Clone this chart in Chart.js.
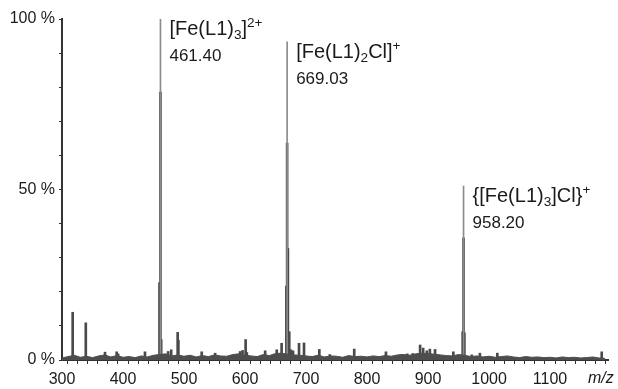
<!DOCTYPE html>
<html>
<head>
<meta charset="utf-8">
<script src="https://cdn.jsdelivr.net/npm/chart.js@4/dist/chart.umd.min.js"></script>
<style>
html,body{margin:0;padding:0;background:#fff;}
#wrap{position:relative;width:618px;height:389px;font-family:"Liberation Sans",Arial,sans-serif;color:#1a1a1a;}
.lab{position:absolute;white-space:nowrap;line-height:20px;}
.f{font-size:20px;}
.n{font-size:17px;}
.f sub,.f sup{font-size:0.68em;line-height:0;}
.f sub{vertical-align:-0.32em;}
.f sup{vertical-align:0.62em;}
#mz{position:absolute;font-size:16px;font-style:italic;}
</style>
</head>
<body>
<div id="wrap">
<canvas id="spec" width="618" height="389"></canvas>
</div>
<script>

// main peaks (tip of the line) and their labels
const apexMz = [461.40, 669.03, 958.20];
const apexPct = [100, 93.3, 51];
const apexNames = ["[Fe(L1)<sub>3</sub>]<sup>2+</sup>", "[Fe(L1)<sub>2</sub>Cl]<sup>+</sup>", "{[Fe(L1)<sub>3</sub>]Cl}<sup>+</sup>"];
const apexText = ["461.40", "669.03", "958.20"];

// peak bodies and the smaller peaks
const peakMz = [317.5, 339, 370.5, 389.6, 392, 436, 459.8, 461.4, 462.6, 474, 479, 489.6, 490.8,
  529, 551, 592, 596, 601, 603, 633, 652, 660, 667.8, 669.03, 670.3, 672.5, 675, 678.7, 688.5, 696.7,
  721.8, 739, 779, 831, 856, 866, 875, 887, 892, 898, 903, 911.5, 941.5, 956.8, 958.2, 959.6,
  971.6, 985, 1013.6, 1184.7];
const peakPct = [14, 10.9, 2.3, 2.4, 1.8, 2.4, 22.7, 78.6, 6, 2.5, 3, 8.1, 5.8,
  2.4, 2, 2.5, 2.8, 6, 2.2, 2.7, 3, 4.9, 21.7, 63.6, 32.7, 8.3, 3, 2.7, 4.9, 5,
  3.1, 1.6, 3.2, 2.4, 1.6, 1.8, 1.9, 4.4, 3.5, 2.7, 3.2, 3.1, 2.4, 8.3, 35.8, 8,
  1.5, 2, 2, 2.4];

// baseline noise
const noiseMz = [300, 310, 320, 330, 340, 350, 360, 370, 380, 390,
  400, 410, 420, 430, 440, 450, 460, 470, 480, 490,
  500, 510, 520, 530, 540, 550, 560, 570, 580, 590,
  600, 610, 620, 630, 640, 650, 660, 670, 680, 690,
  700, 710, 720, 730, 740, 750, 760, 770, 780, 790,
  800, 810, 820, 830, 840, 850, 860, 870, 880, 890,
  900, 910, 920, 930, 940, 950, 960, 970, 980, 990,
  1000, 1010, 1020, 1030, 1040, 1050, 1060, 1070, 1080, 1090,
  1100, 1110, 1120, 1130, 1140, 1150, 1160, 1170, 1180, 1190];
const noisePct = [0.6, 1.0, 1.4, 0.8, 1.1, 0.7, 1.2, 1.5, 0.9, 1.3,
  0.8, 1.0, 0.7, 1.2, 0.9, 1.4, 1.6, 1.8, 1.2, 1.5,
  1.1, 1.4, 0.9, 1.3, 1.0, 1.5, 1.2, 1.1, 1.6, 1.8,
  1.4, 1.2, 1.0, 1.6, 1.3, 1.9, 2.0, 1.7, 1.5, 1.4,
  1.2, 1.0, 1.4, 0.9, 1.2, 1.1, 0.8, 1.3, 1.0, 1.1,
  0.9, 1.2, 1.0, 1.3, 1.1, 1.5, 1.6, 1.4, 1.8, 2.0,
  1.9, 1.7, 1.5, 1.3, 1.2, 1.6, 1.4, 1.0, 1.2, 0.9,
  1.1, 0.8, 1.0, 1.2, 0.9, 0.7, 1.0, 0.8, 0.9, 0.7,
  0.8, 0.6, 0.9, 0.7, 0.8, 0.6, 0.7, 0.9, 0.6, 0.5];

const xLabels = [300, 400, 500, 600, 700, 800, 900, 1000, 1100];
const yLabels = [0, 50, 100];

function pts(xs, ys){
  return xs.map((x, i) => ({x: x, y: ys[i]}));
}

const ctx = document.getElementById("spec").getContext("2d");

const chart = new Chart(ctx, {
  type: "bar",
  data: {
    datasets: [
      {
        type: "line",
        data: pts(noiseMz, noisePct),
        borderColor: "#4d4d4d",
        backgroundColor: "#4d4d4d",
        borderWidth: 1,
        pointRadius: 0,
        fill: "origin",
        tension: 0
      },
      {
        data: pts(apexMz, apexPct),
        backgroundColor: "#8c8c8c",
        barThickness: 1,
        grouped: false
      },
      {
        data: pts(peakMz, peakPct),
        backgroundColor: "#4a4a4a",
        barThickness: 2,
        grouped: false
      }
    ]
  },
  options: {
    responsive: false,
    animation: false,
    events: [],
    layout: {padding: {left: 0, right: 10, top: 19, bottom: 0}},
    plugins: {legend: {display: false}, tooltip: {enabled: false}},
    scales: {
      x: {
        type: "linear",
        min: 300,
        max: 1195,
        offset: false,
        afterFit: function(scale){ scale.height = 29; },
        afterBuildTicks: function(scale){
          let t = [];
          for(let v = 300; v <= 1195; v += 100/6){
            t.push({value: v});
          }
          scale.ticks = t;
        },
        ticks: {
          autoSkip: false,
          maxRotation: 0,
          padding: 6,
          color: "#1a1a1a",
          font: {family: "'Liberation Sans', Arial, sans-serif", size: 16},
          callback: function(v){
            let r = Math.round(v);
            if(Math.abs(v - r) < 0.01 && xLabels.includes(r)) return String(r);
            return "";
          }
        },
        grid: {drawOnChartArea: false, tickLength: 4, color: "#333", lineWidth: 1},
        border: {color: "#333", width: 2}
      },
      y: {
        min: 0,
        max: 100,
        afterFit: function(scale){ scale.width = 62; },
        ticks: {
          stepSize: 10,
          padding: 4,
          color: "#1a1a1a",
          font: {family: "'Liberation Sans', Arial, sans-serif", size: 16},
          callback: function(v){
            return yLabels.includes(v) ? v + " %" : "";
          }
        },
        grid: {drawOnChartArea: false, tickLength: 3, color: "#333", lineWidth: 1},
        border: {color: "#333", width: 2}
      }
    }
  }
});

// peak labels placed with the chart's own scales
const wrap = document.getElementById("wrap");
const xs = chart.scales.x;
const ys = chart.scales.y;

for(let i = 0; i < apexMz.length; i++){
  let px = xs.getPixelForValue(apexMz[i]) + 9;
  let py = ys.getPixelForValue(apexPct[i]);

  let a = document.createElement("div");
  a.className = "lab f";
  a.innerHTML = apexNames[i];
  a.style.left = px + "px";
  a.style.top = (py - 1) + "px";
  wrap.appendChild(a);

  let b = document.createElement("div");
  b.className = "lab n";
  b.textContent = apexText[i];
  b.style.left = px + "px";
  b.style.top = (py + 27) + "px";
  wrap.appendChild(b);
}

let mz = document.createElement("div");
mz.id = "mz";
mz.textContent = "m/z";
mz.style.left = (chart.chartArea.right - 20) + "px";
mz.style.top = (chart.chartArea.bottom + 9) + "px";
wrap.appendChild(mz);

</script>
</body>
</html>
